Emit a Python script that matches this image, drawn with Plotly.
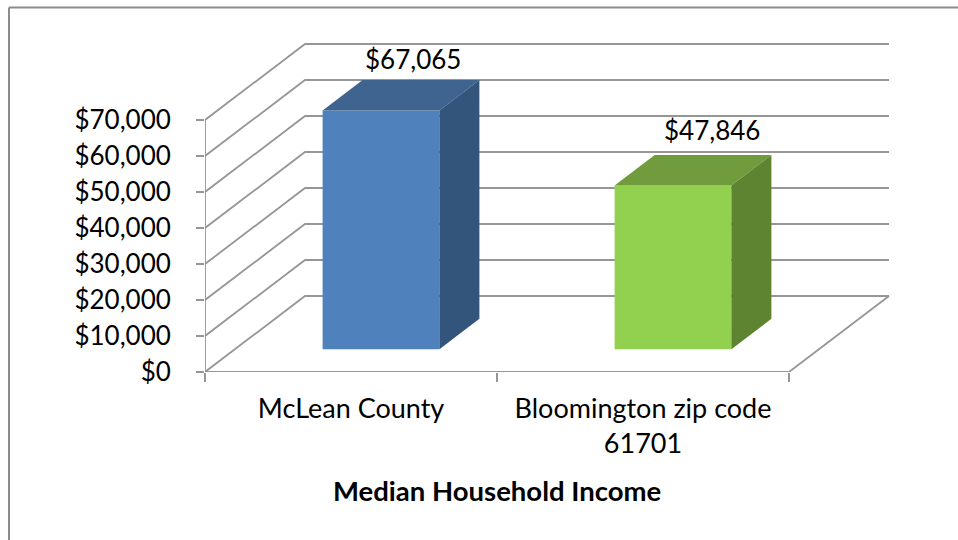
import plotly.graph_objects as go

categories = ["McLean County", "Bloomington zip code<br>61701"]
value_labels = ["$67,065", "$47,846"]
# bar heights as read against the drawn gridlines
bar_heights = [66300, 45500]
tick_values = [0, 10000, 20000, 30000, 40000, 50000, 60000, 70000]
tick_labels = ["$0", "$10,000", "$20,000", "$30,000", "$40,000", "$50,000", "$60,000", "$70,000"]
front_colors = ["#4F81BD", "#92D050"]
top_colors = ["#3E648F", "#719C3D"]
side_colors = ["#33547B", "#5E8431"]

FONT = "Lato"
GRID = "#969696"
W, H = 958, 540
L, R, T, B = 205, 895, 30, 372
PX_CAT = 292.0
PX_VAL = 36 / 10000
BAR_WIDTH = 0.4
DEPTH_X = 100 / PX_CAT      # category units for full depth of floor
DEPTH_Y = 76 / PX_VAL       # value units for full depth of floor
D0, D1 = 0.3, 0.7


def proj(x, v, d):
    return x + d * DEPTH_X, v + d * DEPTH_Y


fig = go.Figure()


def line(points):
    pts = [proj(*p) for p in points]
    fig.add_trace(go.Scatter(x=[p[0] for p in pts], y=[p[1] for p in pts], mode="lines",
                             line=dict(color=GRID, width=1.8), hoverinfo="skip",
                             cliponaxis=False, showlegend=False))


def poly(points, color):
    pts = [proj(*p) for p in points]
    fig.add_trace(go.Scatter(x=[p[0] for p in pts], y=[p[1] for p in pts], mode="lines",
                             fill="toself", fillcolor=color, line=dict(width=0, color=color),
                             hoverinfo="skip", showlegend=False))


n = len(categories)
for v in tick_values:
    line([(0, v, 0), (0, v, 1), (n, v, 1)])
line([(n, 0, 1), (n, 0, 0), (0, 0, 0)])
line([(0, 0, 0), (0, tick_values[-1], 0)])

for i, h in enumerate(bar_heights):
    a, b = i + 0.5 - BAR_WIDTH / 2, i + 0.5 + BAR_WIDTH / 2
    poly([(a, 0, D0), (b, 0, D0), (b, h, D0), (a, h, D0)], front_colors[i])
    poly([(a, h, D0), (b, h, D0), (b, h, D1), (a, h, D1)], top_colors[i])
    poly([(b, 0, D0), (b, 0, D1), (b, h, D1), (b, h, D0)], side_colors[i])

label_shift = [(-8, 21), (-1, 25)]
for i, h in enumerate(bar_heights):
    x, y = proj(i + 0.5, h, D1)
    fig.add_annotation(x=x, y=y, xref="x", yref="y", text=value_labels[i], showarrow=False,
                       xshift=label_shift[i][0], yshift=label_shift[i][1],
                       font=dict(family=FONT, size=26, color="#000000"))

fig.add_annotation(x=1, y=0, xref="x", yref="y", yshift=-118, text="<b>Median Household Income</b>",
                   showarrow=False, font=dict(family=FONT, size=27.5, color="#000000"))

frame = dict(color="#8C8C8C", width=2)
fig.add_shape(type="line", xref="paper", yref="paper", x0=(9 - L) / (R - L), x1=(9 - L) / (R - L),
              y0=(B - 7.5) / (B - T), y1=(B - 545) / (B - T), line=frame)
fig.add_shape(type="line", xref="paper", yref="paper", x0=(9 - L) / (R - L), x1=(965 - L) / (R - L),
              y0=(B - 7.5) / (B - T), y1=(B - 7.5) / (B - T), line=frame)

fig.update_layout(
    width=W, height=H, paper_bgcolor="#FFFFFF", plot_bgcolor="#FFFFFF", showlegend=False,
    margin=dict(l=L, r=W - R, t=T, b=H - B, autoexpand=False),
    font=dict(family=FONT, size=26, color="#000000"),
    xaxis=dict(range=[0, (R - L) / PX_CAT], showgrid=False, zeroline=False, showline=False,
               tickmode="array", tickvals=[i + 0.5 for i in range(n)], ticktext=categories,
               ticks="", ticklabelstandoff=18, tickangle=0, tickfont=dict(family=FONT, size=27),
               minor=dict(tickmode="array", tickvals=list(range(n + 1)), ticks="outside",
                          ticklen=9, tickwidth=1.8, tickcolor=GRID, showgrid=False)),
    yaxis=dict(range=[0, (B - T) / PX_VAL], showgrid=False, zeroline=False, showline=False,
               tickmode="array", tickvals=tick_values, ticktext=tick_labels,
               ticks="outside", ticklen=8, tickwidth=1.8, tickcolor=GRID, ticklabelstandoff=20,
               tickfont=dict(family=FONT, size=26)),
)

fig.write_html("out.html", config={"displayModeBar": False},
               post_script="document.body.style.margin='0';document.body.style.overflow='hidden';")
